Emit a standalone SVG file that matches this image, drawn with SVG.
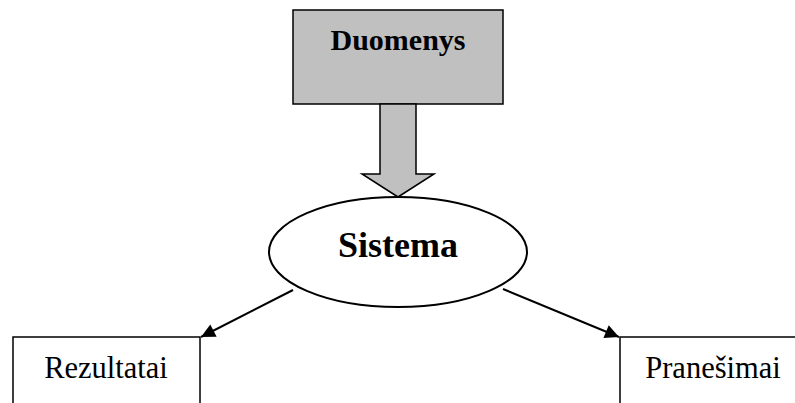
<svg xmlns="http://www.w3.org/2000/svg" width="795" height="403" viewBox="0 0 795 403">
  <style>
    .box { fill: #ffffff; stroke: #000000; stroke-width: 1.5; }
    .src { fill: #c0c0c0; stroke: #000000; stroke-width: 1.5; }
    .lbl { font-family: "Liberation Serif", "Times New Roman", serif; fill: #000000; text-anchor: middle; }
    .edge { stroke: #000000; stroke-width: 2; fill: none; }
  </style>
  <defs>
    <marker id="tri" viewBox="0 0 10 10" refX="10" refY="5" markerWidth="8" markerHeight="7" markerUnits="strokeWidth" orient="auto">
      <path d="M0,0 L10,5 L0,10 Z" fill="#000000"/>
    </marker>
  </defs>
  <rect width="795" height="403" fill="#ffffff"/>

  <g id="duomenys">
    <rect class="src" x="293" y="10" width="210" height="94"/>
    <text class="lbl" x="398" y="50" font-size="30" font-weight="bold">Duomenys</text>
  </g>

  <g id="connectors">
    <!-- broad input arrow from the data block down to the system -->
    <path class="src" d="M380,104 L416,104 L416,174 L434,174 L398,197 L362,174 L380,174 Z"/>
    <line class="edge" x1="293" y1="290" x2="201" y2="337" marker-end="url(#tri)"/>
    <line class="edge" x1="503" y1="289" x2="619" y2="337" marker-end="url(#tri)"/>
  </g>

  <g id="sistema">
    <ellipse cx="398" cy="252" rx="129" ry="55" fill="#ffffff" stroke="#000000" stroke-width="2"/>
    <text class="lbl" x="398" y="257" font-size="36" font-weight="bold">Sistema</text>
  </g>

  <g id="rezultatai">
    <rect class="box" x="13" y="337" width="187" height="80"/>
    <text class="lbl" x="106" y="378" font-size="30.5">Rezultatai</text>
  </g>

  <g id="pranesimai">
    <rect class="box" x="620" y="337" width="190" height="80"/>
    <text class="lbl" x="713" y="378" font-size="30.5">Pranešimai</text>
  </g>
</svg>
